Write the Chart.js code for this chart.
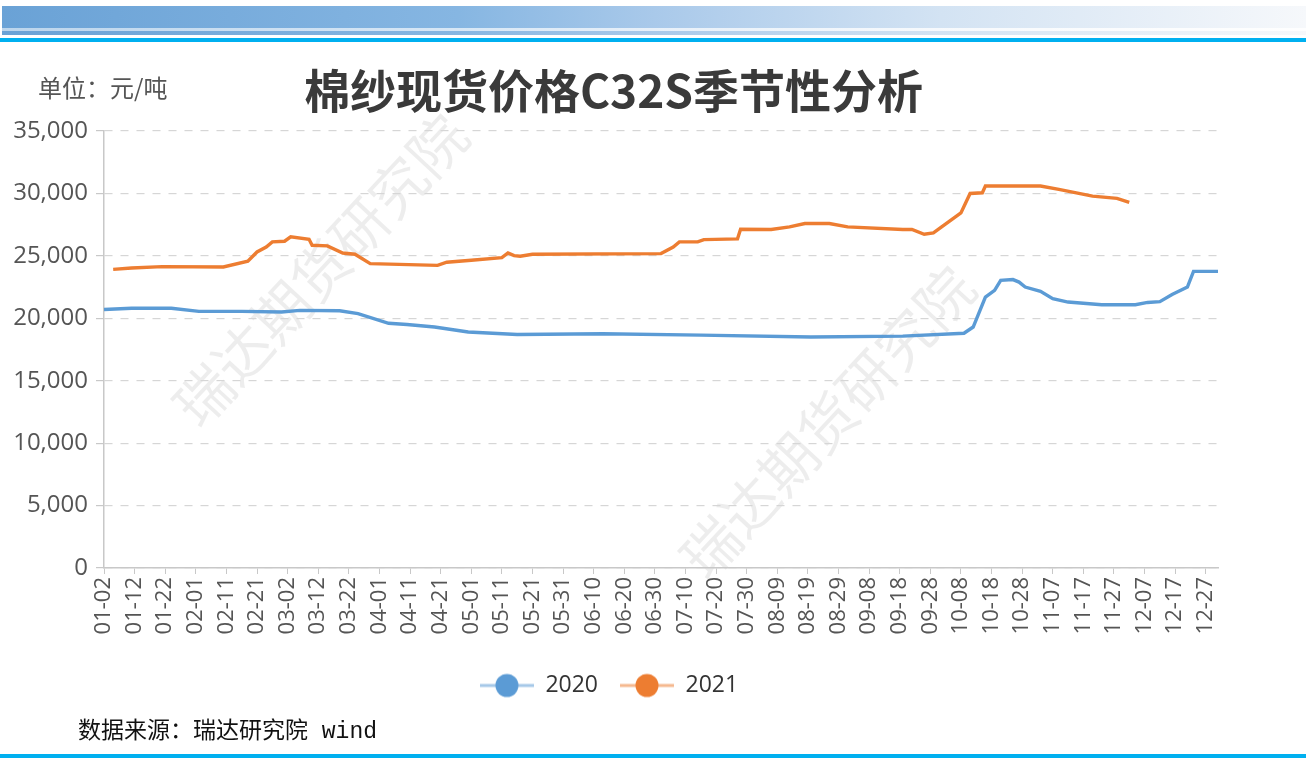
<!DOCTYPE html>
<html>
<head>
<meta charset="utf-8">
<script src="https://cdn.jsdelivr.net/npm/chart.js@4.4.0/dist/chart.umd.min.js"></script>
<style>
  body { margin: 0; background: #fff; }
  #page { position: relative; width: 1306px; height: 758px; overflow: hidden; font-family: "Open Sans", "Noto Sans CJK SC", sans-serif; }
  #headerBar { position: absolute; left: 2px; top: 6px; width: 1304px; height: 29px;
    background: linear-gradient(to right, #6aa2d6 0%, #86b6e2 35%, #a9c9ea 50%, #d3e3f3 72%, #f6f8fb 100%); }
  #headerShine { position: absolute; left: 2px; top: 28px; width: 1304px; height: 3px;
    background: linear-gradient(to right, rgba(255,255,255,0.55), rgba(255,255,255,0.9)); }
  .blueLine { position: absolute; left: 0; width: 1306px; height: 4px; background: #00b0f0; }
  #title { position: absolute; left: 0; width: 1227px; top: 59px; line-height: 58px; text-align: center;
    font-size: 46px; font-weight: bold; color: #3a3a3a; font-family: "Noto Sans CJK SC", sans-serif; z-index: 2; }
  #unit { position: absolute; left: 38px; top: 71px; line-height: 32px; font-size: 24px; color: #555;
    font-family: "Noto Sans CJK SC", sans-serif; z-index: 2; }
  #source { position: absolute; left: 78px; top: 717px; line-height: 30px; font-size: 23px; color: #111;
    font-family: "Liberation Mono", "Noto Sans CJK SC", serif; z-index: 2; }
  .watermark { position: absolute; font-size: 57px; color: rgba(0,0,0,0.07); white-space: nowrap;
    font-family: "Noto Sans CJK SC", sans-serif; transform: translate(-50%, -50%) rotate(-47deg); z-index: 0; }
  #chart { position: absolute; left: 0; top: 0; z-index: 1; }
</style>
</head>
<body>
<div id="page">
  <div id="headerBar"></div>
  <div id="headerShine"></div>
  <div class="blueLine" style="top:38px"></div>
  <div class="watermark" style="left:318px; top:268px">瑞达期货研究院</div>
  <div class="watermark" style="left:825px; top:420px">瑞达期货研究院</div>
  <div id="unit">单位：元/吨</div>
  <div id="title">棉纱现货价格C32S季节性分析</div>
  <canvas id="chart" width="1306" height="758"></canvas>
  <div id="source">数据来源：瑞达研究院 wind</div>
  <div class="blueLine" style="top:754px"></div>
</div>
<script>
// every day of a leap year from 01-02 to 12-31 (category axis)
const monthDays = [31, 29, 31, 30, 31, 30, 31, 31, 30, 31, 30, 31];
const categories = [];
monthDays.forEach((n, m) => {
  for (let d = 1; d <= n; d++) {
    if (m === 0 && d === 1) continue;
    categories.push(String(m + 1).padStart(2, "0") + "-" + String(d).padStart(2, "0"));
  }
});

// labels actually printed under the x axis
const tickLabels = ["01-02", "01-12", "01-22", "02-01", "02-11", "02-21", "03-02", "03-12", "03-22",
  "04-01", "04-11", "04-21", "05-01", "05-11", "05-21", "05-31", "06-10", "06-20", "06-30",
  "07-10", "07-20", "07-30", "08-09", "08-19", "08-29", "09-08", "09-18", "09-28",
  "10-08", "10-18", "10-28", "11-07", "11-17", "11-27", "12-07", "12-17", "12-27"];

// 2020 price at the turning points
const dates2020 = ["01-02", "01-11", "01-24", "02-02", "02-16", "02-29", "03-06", "03-19", "03-25",
  "04-04", "04-10", "04-19", "04-30", "05-16", "06-13", "07-15", "08-20", "09-19",
  "10-09", "10-12", "10-16", "10-19", "10-21", "10-25", "10-27", "10-29", "11-03", "11-07",
  "11-12", "11-23", "12-04", "12-08", "12-12", "12-16", "12-21", "12-23", "12-31"];
const values2020 = [20700, 20800, 20800, 20550, 20550, 20500, 20630, 20600, 20370,
  19600, 19500, 19300, 18900, 18700, 18760, 18650, 18500, 18570,
  18800, 19300, 21700, 22240, 23040, 23100, 22900, 22500, 22160, 21570,
  21300, 21090, 21090, 21270, 21330, 21900, 22500, 23760, 23760];

// 2021 price
const dates2021 = ["01-05", "01-11", "01-21", "02-10", "02-18", "02-21", "02-24", "02-26", "03-01",
  "03-03", "03-09", "03-10", "03-15", "03-20", "03-24", "03-29", "04-20", "04-23", "05-01",
  "05-11", "05-13", "05-15", "05-17", "05-21", "07-02", "07-06", "07-08", "07-14", "07-16",
  "07-27", "07-28", "08-07", "08-13", "08-18", "08-26", "09-01", "09-19", "09-22", "09-26",
  "09-29", "10-08", "10-11", "10-15", "10-16", "11-03", "11-09", "11-20", "11-28", "12-02"];
const values2021 = [23920, 24030, 24140, 24110, 24570, 25310, 25710, 26120, 26170,
  26520, 26330, 25850, 25800, 25230, 25130, 24380, 24240, 24490, 24650,
  24860, 25230, 25020, 24970, 25130, 25180, 25710, 26120, 26120, 26300,
  26360, 27130, 27110, 27320, 27590, 27590, 27320, 27110, 27110, 26730,
  26840, 28440, 30000, 30050, 30590, 30590, 30320, 29780, 29600, 29280];

const seriesNames = ["2020", "2021"];
const seriesColors = ["#5b9bd5", "#ed7d31"];
const yTicks = [0, 5000, 10000, 15000, 20000, 25000, 30000, 35000];

const toPoints = (dates, values) => dates.map((d, i) => ({ x: d, y: values[i] }));

// legend icon: short pale line with a dot in the middle
function legendIcon(color) {
  const c = document.createElement("canvas");
  c.width = 54;
  c.height = 26;
  const g = c.getContext("2d");
  g.globalAlpha = 0.55;
  g.strokeStyle = color;
  g.lineWidth = 3;
  g.beginPath();
  g.moveTo(0, 13);
  g.lineTo(54, 13);
  g.stroke();
  g.globalAlpha = 1;
  g.fillStyle = color;
  g.beginPath();
  g.arc(27, 13, 11.5, 0, Math.PI * 2);
  g.fill();
  return c;
}
const legendIcons = seriesColors.map(legendIcon);

const legendPad = 22;

new Chart(document.getElementById("chart"), {
  type: "line",
  data: {
    labels: categories,
    datasets: [
      {
        label: seriesNames[0],
        data: toPoints(dates2020, values2020),
        borderColor: seriesColors[0],
        backgroundColor: seriesColors[0],
        borderWidth: 3.4,
        pointRadius: 0,
        tension: 0,
      },
      {
        label: seriesNames[1],
        data: toPoints(dates2021, values2021),
        borderColor: seriesColors[1],
        backgroundColor: seriesColors[1],
        borderWidth: 3.4,
        pointRadius: 0,
        tension: 0,
      },
    ],
  },
  options: {
    responsive: false,
    animation: false,
    devicePixelRatio: 1,
    layout: { padding: { left: 0, top: 131, right: 88, bottom: 51 } },
    plugins: {
      tooltip: { enabled: false },
      legend: {
        position: "bottom",
        labels: {
          usePointStyle: true,
          pointStyleWidth: 54,
          padding: legendPad,
          color: "#333",
          font: { size: 23, family: "'Open Sans', sans-serif" },
          generateLabels: (chart) =>
            chart.data.datasets.map((ds, i) => ({
              text: ds.label,
              pointStyle: legendIcons[i],
              fillStyle: ds.borderColor,
              strokeStyle: ds.borderColor,
              lineWidth: 0,
              fontColor: "#333",
              hidden: !chart.isDatasetVisible(i),
              datasetIndex: i,
            })),
        },
      },
    },
    scales: {
      x: {
        type: "category",
        offset: false,
        afterFit: (scale) => { scale.height = 651 - 567; },
        grid: { display: true, drawOnChartArea: false, drawTicks: true, tickLength: 6, color: "#c8c8c8" },
        border: { display: true, color: "#c8c8c8", width: 1.5 },
        ticks: {
          autoSkip: false,
          maxRotation: 90,
          minRotation: 90,
          padding: 3,
          color: "#555",
          font: { size: 22, family: "'Open Sans', sans-serif" },
          callback: function (value) {
            const lab = categories[value];
            return tickLabels.includes(lab) ? lab : null;
          },
        },
      },
      y: {
        min: 0,
        max: 35000,
        afterFit: (scale) => { scale.width = 104; },
        afterBuildTicks: (scale) => { scale.ticks = yTicks.map((v) => ({ value: v })); },
        grid: { color: "#d6d6d6", tickLength: 8, tickColor: "#c8c8c8", lineWidth: 1.2 },
        border: { display: true, color: "#c8c8c8", width: 1.5, dash: [8, 8] },
        ticks: {
          padding: 8,
          color: "#555",
          font: { size: 24, family: "'Open Sans', sans-serif" },
          callback: (v) => v.toLocaleString("en-US"),
        },
      },
    },
  },
});
</script>
</body>
</html>
